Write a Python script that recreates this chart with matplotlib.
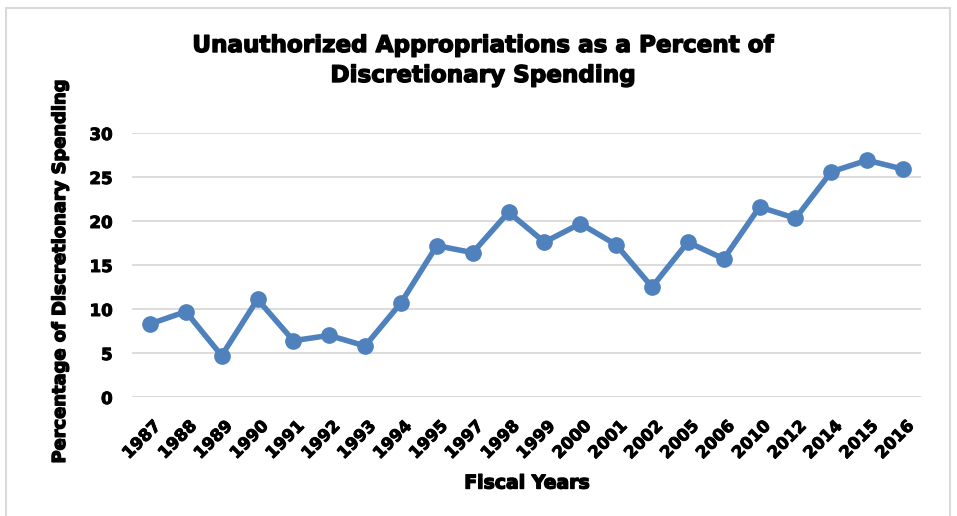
import matplotlib
matplotlib.use("Agg")
import matplotlib.pyplot as plt
from matplotlib.patches import Rectangle
from matplotlib.transforms import ScaledTranslation
import matplotlib.patheffects as pe

years = ["1987", "1988", "1989", "1990", "1991", "1992", "1993", "1994", "1995", "1997", "1998",
         "1999", "2000", "2001", "2002", "2005", "2006", "2010", "2012", "2014", "2015", "2016"]
values = [8.3, 9.7, 4.7, 11.1, 6.4, 7.0, 5.8, 10.7, 17.2, 16.4, 21.0,
          17.6, 19.7, 17.3, 12.5, 17.6, 15.7, 21.6, 20.3, 25.6, 26.9, 25.9]
yticks = [0, 5, 10, 15, 20, 25, 30]

W, H = 957, 516
plt.rcParams['font.family'] = ['DejaVu Sans']
plt.rcParams['font.weight'] = 'bold'
fig = plt.figure(figsize=(W / 100, H / 100), dpi=100)
fig.patches.append(Rectangle((6 / W, -0.01), (950 - 6) / W, 1 - 8 / H + 0.01, transform=fig.transFigure,
                             fill=False, edgecolor='#d9d9d9', linewidth=1.5))
ax = fig.add_axes([132 / W, 1 - 397 / H, (921 - 132) / W, (397 - 133) / H])

heavy = [pe.withStroke(linewidth=1.0, foreground='black')]

x = list(range(len(years)))
ax.plot(x, values, color='#4F81BD', linewidth=4, marker='o', markersize=11, zorder=3)
ax.set_xlim(-0.5, len(years) - 0.5)
ax.set_ylim(0, 30)
ax.set_yticks(yticks)
ax.set_yticklabels([str(t) for t in yticks], fontsize=12, fontweight='bold')
ax.set_xticks(x)
ax.set_xticklabels(years, rotation=45, ha='right', va='center', rotation_mode='anchor',
                   fontsize=12, fontweight='bold')
ax.tick_params(axis='both', length=0)
ax.tick_params(axis='y', pad=14)
ax.tick_params(axis='x', pad=19)
off = ScaledTranslation(8 / 100, 0, fig.dpi_scale_trans)
for lab in ax.get_xticklabels():
    lab.set_transform(lab.get_transform() + off)
for lab in ax.get_xticklabels() + ax.get_yticklabels():
    lab.set_path_effects([pe.withStroke(linewidth=0.7, foreground='black')])
ax.grid(axis='y', color='#d9d9d9', linewidth=1.3)
ax.set_axisbelow(True)
for s in ax.spines.values():
    s.set_visible(False)

renderer = fig.canvas.get_renderer()


def fit(t, target, horizontal=True):
    bb = t.get_window_extent(renderer)
    cur = bb.width if horizontal else bb.height
    t.set_fontsize(t.get_fontsize() * target / cur)


t1 = fig.text(484.5 / W, 1 - 52 / H, "Unauthorized Appropriations as a Percent of",
              ha='center', va='baseline', fontsize=15, fontweight='bold', path_effects=heavy)
t2 = fig.text(484 / W, 1 - 82 / H, "Discretionary Spending",
              ha='center', va='baseline', fontsize=15, fontweight='bold', path_effects=heavy)
fit(t1, 583)
t2.set_fontsize(t1.get_fontsize())

xl = fig.text(527 / W, 1 - 483 / H, "Fiscal Years", ha='center', va='center', fontsize=12,
              fontweight='bold', path_effects=heavy)
fit(xl, 125)
yl = fig.text(60 / W, 1 - 271.5 / H, "Percentage of Discretionary Spending", ha='center', va='center',
              rotation=90, fontsize=12, fontweight='bold', path_effects=heavy)
fit(yl, 383, horizontal=False)

fig.savefig("out.png", dpi=100)
